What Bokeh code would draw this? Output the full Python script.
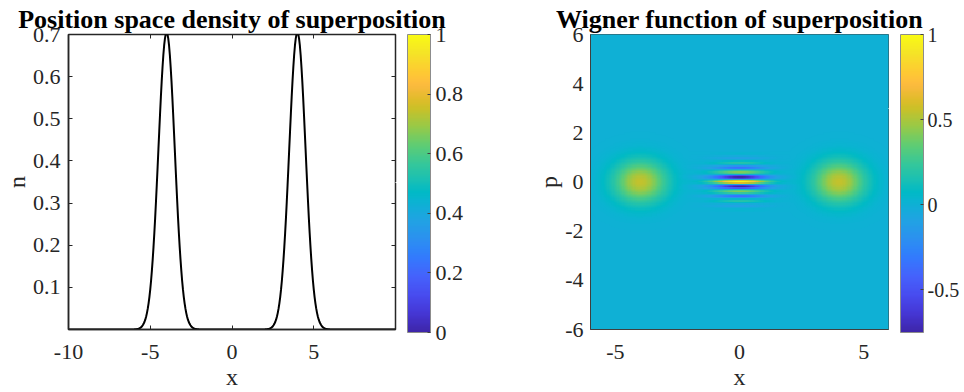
import numpy as np
from bokeh.plotting import figure
from bokeh.layouts import row
from bokeh.models import (Range1d, LinearAxis, FixedTicker, ColorBar, LinearColorMapper,
                          PrintfTickFormatter, CustomJSTickFormatter)
from bokeh.embed import file_html
from bokeh.resources import INLINE

# ---------------- data ----------------
# density peaks (left panel)
peak_centers = [-4.0, 4.0]
peak_height = 0.705
# shape of one density peak, read at offsets 0, 0.05, 0.10, ... from its centre (relative height)
profile_step = 0.05
profile = [1.000, 0.995, 0.980, 0.956, 0.923, 0.882, 0.835, 0.783, 0.726, 0.667,
           0.607, 0.546, 0.487, 0.430, 0.375, 0.325, 0.278, 0.236, 0.198, 0.164,
           0.135, 0.110, 0.089, 0.071, 0.056, 0.044, 0.034, 0.026, 0.020, 0.015,
           0.011, 0.008, 0.006, 0.004, 0.003, 0.002, 0.0015, 0.001, 0.0007, 0.0005, 0.0003]
# Wigner function: two blobs and the interference fringes at x = 0
blob_centers = [-4.0, 4.0]
blob_height = 0.55
fringe_height = 1.0
# relative fall-off along x (blobs and fringes), read at offsets 0, 0.05, ...
wigner_x_profile = [1.000, 0.998, 0.991, 0.980, 0.965, 0.946, 0.923, 0.897, 0.867, 0.835,
                    0.801, 0.764, 0.726, 0.687, 0.647, 0.607, 0.566, 0.526, 0.487, 0.448,
                    0.411, 0.375, 0.341, 0.309, 0.278, 0.249, 0.223, 0.198, 0.175, 0.154,
                    0.135, 0.118, 0.103, 0.089, 0.077, 0.066, 0.056, 0.048, 0.040, 0.034,
                    0.029, 0.024, 0.020, 0.016, 0.014, 0.011, 0.009, 0.007, 0.006, 0.005, 0.004]
# relative fall-off of the blobs along p, read at offsets 0, 0.05, ...
wigner_p_profile = [1.000, 0.997, 0.986, 0.969, 0.946, 0.917, 0.882, 0.843, 0.801, 0.755,
                    0.707, 0.657, 0.607, 0.556, 0.506, 0.458, 0.411, 0.367, 0.325, 0.286,
                    0.249, 0.216, 0.186, 0.159, 0.135, 0.114, 0.096, 0.080, 0.066, 0.054,
                    0.044, 0.036, 0.029, 0.023, 0.018, 0.014, 0.011, 0.009, 0.007, 0.005, 0.004]
# fringe values along p read at 0, 0.05, 0.10, ... (symmetric in p)
fringe = [1.00, 0.62, -0.05, -0.62, -0.75, -0.50, 0.02, 0.35, 0.42, 0.25,
          -0.06, -0.32, -0.36, -0.18, 0.04, 0.18, 0.19, 0.08, -0.04, -0.10,
          -0.09, -0.03, 0.02, 0.03, 0.02, 0.0]

left_x_ticks = [-10, -5, 0, 5]
left_y_ticks = [0.1, 0.2, 0.3, 0.4, 0.5, 0.6, 0.7]
left_cb_ticks = [0, 0.2, 0.4, 0.6, 0.8, 1]
right_x_ticks = [-5, 0, 5]
right_y_ticks = [-6, -4, -2, 0, 2, 4, 6]
right_cb_ticks = [-0.5, 0, 0.5, 1]
wigner_low, wigner_high = -0.75, 1.0

# ---------------- parula colormap (style) ----------------
parula_anchors = [
    (0, (0.2422, 0.1504, 0.6603)), (16, (0.2704, 0.2138, 0.8346)),
    (32, (0.2813, 0.2985, 0.9397)), (48, (0.2710, 0.3860, 0.9898)),
    (64, (0.2006, 0.4803, 0.9906)), (72, (0.1795, 0.5244, 0.9709)),
    (80, (0.1716, 0.5655, 0.9393)), (96, (0.1288, 0.6408, 0.8910)),
    (112, (0.0433, 0.7039, 0.8242)), (120, (0.0018, 0.7275, 0.7752)),
    (128, (0.0770, 0.7468, 0.7224)), (144, (0.2061, 0.7808, 0.6065)),
    (160, (0.3671, 0.8021, 0.4563)), (176, (0.5886, 0.7913, 0.2833)),
    (192, (0.7945, 0.7554, 0.1570)), (200, (0.8804, 0.7372, 0.1650)),
    (208, (0.9523, 0.7284, 0.2237)), (212, (0.9842, 0.7330, 0.2446)),
    (216, (0.9971, 0.7513, 0.2309)), (224, (0.9938, 0.7974, 0.1974)),
    (240, (0.9601, 0.8963, 0.1507)), (255, (0.9769, 0.9839, 0.0805)),
]


def build_palette():
    pal = []
    for i in range(256):
        for (i0, c0), (i1, c1) in zip(parula_anchors[:-1], parula_anchors[1:]):
            if i0 <= i <= i1:
                t = (i - i0) / (i1 - i0)
                c = [c0[k] + (c1[k] - c0[k]) * t for k in range(3)]
                pal.append("#%02x%02x%02x" % tuple(int(round(v * 255)) for v in c))
                break
    return pal


PARULA = build_palette()


def lookup(table, d):
    idx = int(round(abs(d) / profile_step))
    return table[idx] if idx < len(table) else 0.0


# density curve
xs = [round(-10 + i * profile_step, 2) for i in range(401)]
n_vals = [sum(peak_height * lookup(profile, x - c) for c in peak_centers) for x in xs]

# Wigner image
coords = [round(-6 + i * profile_step, 2) for i in range(241)]
W = np.array([[sum(blob_height * lookup(wigner_x_profile, x - c) * lookup(wigner_p_profile, pp)
                   for c in blob_centers)
               + fringe_height * lookup(wigner_x_profile, x) * lookup(fringe, pp)
               for x in coords] for pp in coords])

FONT = "Liberation Serif"
TXT = "#262626"


def style(fig, xticks, yticks, tick_in, line_w, line_color, ylab_standoff):
    fig.grid.visible = False
    fig.outline_line_color = line_color
    fig.outline_line_width = line_w
    fig.background_fill_color = "white"
    fig.border_fill_color = "white"
    fig.title.text_font = FONT
    fig.title.text_font_style = "bold"
    fig.title.text_font_size = "26px"
    fig.title.text_color = "black"
    fig.title.align = "center"
    fig.title.standoff = 2
    for ax, ticks in ((fig.xaxis[0], xticks), (fig.yaxis[0], yticks)):
        ax.ticker = FixedTicker(ticks=ticks)
        ax.formatter = PrintfTickFormatter(format="%g")
        ax.major_tick_in = tick_in
        ax.major_tick_out = 0
        ax.minor_tick_line_color = None
        ax.axis_line_color = line_color
        ax.axis_line_width = line_w
        ax.major_tick_line_color = line_color if tick_in else None
        ax.major_label_text_font = FONT
        ax.major_label_text_font_size = "22px"
        ax.major_label_text_color = TXT
        ax.axis_label_text_font = FONT
        ax.axis_label_text_font_size = "24px"
        ax.axis_label_text_font_style = "normal"
        ax.axis_label_text_color = TXT
    fig.xaxis[0].major_label_standoff = 15
    fig.xaxis[0].axis_label_standoff = 2
    fig.yaxis[0].major_label_standoff = ylab_standoff
    fig.yaxis[0].axis_label_standoff = 0


def blank_axis(ticks, tick_in, tick_out, color):
    return LinearAxis(ticker=FixedTicker(ticks=ticks),
                      formatter=CustomJSTickFormatter(code="return ''"),
                      major_label_text_font_size="0px", major_label_standoff=0,
                      major_tick_in=tick_in, major_tick_out=tick_out,
                      major_tick_line_color=color, minor_tick_line_color=None,
                      axis_line_color=None)


def colorbar(mapper, ticks, font_size, standoff):
    return ColorBar(color_mapper=mapper, ticker=FixedTicker(ticks=ticks),
                    formatter=PrintfTickFormatter(format="%g"),
                    width=23, height=298, location="top_left", padding=0, margin=0,
                    major_tick_in=3, major_tick_out=0, major_tick_line_color="#404040",
                    minor_tick_line_color=None, bar_line_color="#8c8c8c",
                    label_standoff=standoff, major_label_text_font=FONT,
                    major_label_text_font_size=font_size, major_label_text_color=TXT,
                    background_fill_color=None, border_line_color=None)


# ---------------- left panel ----------------
p1 = figure(width=500, height=392, x_range=Range1d(-10, 10), y_range=Range1d(0, 0.7),
            output_backend="svg", toolbar_location=None,
            min_border_left=67, min_border_right=105, min_border_top=34, min_border_bottom=60,
            x_axis_label="x", y_axis_label="n",
            title="Position space density of superposition")
p1.line(xs, n_vals, line_color="black", line_width=2)
style(p1, left_x_ticks, left_y_ticks, 4, 1.5, "#262626", 8)
p1.add_layout(blank_axis(left_x_ticks, 4, 0, "#262626"), "above")
p1.add_layout(blank_axis(left_y_ticks, 4, 0, "#262626"), "right")
# invisible (white) outward tick that only reserves the gap before the colour bar
p1.add_layout(blank_axis([0.35], 0, 12, "white"), "right")
mapper1 = LinearColorMapper(palette=PARULA, low=0, high=1)
p1.add_layout(colorbar(mapper1, left_cb_ticks, "22px", 5), "right")

# ---------------- right panel ----------------
p2 = figure(width=464, height=392, x_range=Range1d(-6, 6), y_range=Range1d(-6, 6),
            output_backend="svg", toolbar_location=None,
            min_border_left=90, min_border_right=76, min_border_top=34, min_border_bottom=60,
            x_axis_label="x", y_axis_label="p",
            title="Wigner function of superposition")
mapper2 = LinearColorMapper(palette=PARULA, low=wigner_low, high=wigner_high)
step = coords[1] - coords[0]
p2.image(image=[W], x=coords[0] - step / 2, y=coords[0] - step / 2,
         dw=coords[-1] - coords[0] + step, dh=coords[-1] - coords[0] + step,
         color_mapper=mapper2)
style(p2, right_x_ticks, right_y_ticks, 0, 1, "#404040", 7)
p2.add_layout(blank_axis([3.0], 0, 12, "white"), "right")
p2.add_layout(colorbar(mapper2, right_cb_ticks, "20px", 4), "right")

layout = row(p1, p2)
open("out.html", "w").write(file_html(layout, INLINE))
